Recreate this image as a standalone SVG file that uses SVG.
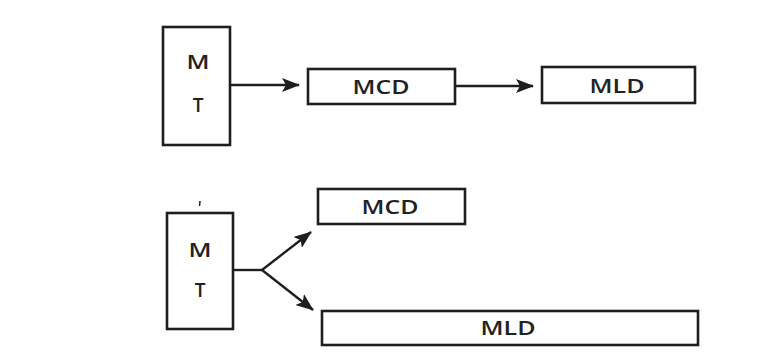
<svg xmlns="http://www.w3.org/2000/svg" width="780" height="357" viewBox="0 0 780 357">
<style>
.box{fill:#fff;stroke:#1e1e1e;stroke-width:2.6}
.lbl{font-family:"Open Sans","Liberation Sans",sans-serif;font-size:19px;font-weight:600;fill:#222;text-anchor:middle;dominant-baseline:central}
.con{fill:none;stroke:#1e1e1e;stroke-width:2.4}
</style>
<defs>
<marker id="ah" viewBox="0 0 18 14" refX="17" refY="7" markerWidth="18" markerHeight="14" markerUnits="userSpaceOnUse" orient="auto">
<path d="M0,0 L18,7 L0,14 L4,7 Z" fill="#1e1e1e"/>
</marker>
</defs>
<rect width="780" height="357" fill="#fff"/>
<g id="connectors">
<line class="con" x1="231" y1="85" x2="299" y2="85" marker-end="url(#ah)"/>
<line class="con" x1="456" y1="86" x2="533" y2="86" marker-end="url(#ah)"/>
<polyline class="con" points="234,270 262,270"/>
<line class="con" x1="262" y1="270" x2="311" y2="232" marker-end="url(#ah)"/>
<line class="con" x1="262" y1="270" x2="313" y2="310" marker-end="url(#ah)"/>
</g>
<g id="mt1">
<rect class="box" x="163" y="27" width="67" height="118"/>
<text class="lbl" x="198" y="62" textLength="23" lengthAdjust="spacingAndGlyphs">M</text>
<text class="lbl" x="198" y="105">T</text>
</g>
<g id="mcd1">
<rect class="box" x="308" y="69" width="147" height="35"/>
<text class="lbl" x="381" y="87" textLength="57" lengthAdjust="spacingAndGlyphs">MCD</text>
</g>
<g id="mld1">
<rect class="box" x="542" y="67" width="153" height="36"/>
<text class="lbl" x="617" y="86" textLength="55" lengthAdjust="spacingAndGlyphs">MLD</text>
</g>
<g id="mt2">
<path d="M200,201 L199.5,206" stroke="#1e1e1e" stroke-width="1.5"/>
<rect class="box" x="167" y="213" width="66" height="116"/>
<text class="lbl" x="200" y="250" textLength="23" lengthAdjust="spacingAndGlyphs">M</text>
<text class="lbl" x="200" y="290">T</text>
</g>
<g id="mcd2">
<rect class="box" x="318" y="189" width="147" height="35"/>
<text class="lbl" x="390" y="207" textLength="57" lengthAdjust="spacingAndGlyphs">MCD</text>
</g>
<g id="mld2">
<rect class="box" x="322" y="311" width="376" height="34"/>
<text class="lbl" x="508" y="328" textLength="55" lengthAdjust="spacingAndGlyphs">MLD</text>
</g>
</svg>
